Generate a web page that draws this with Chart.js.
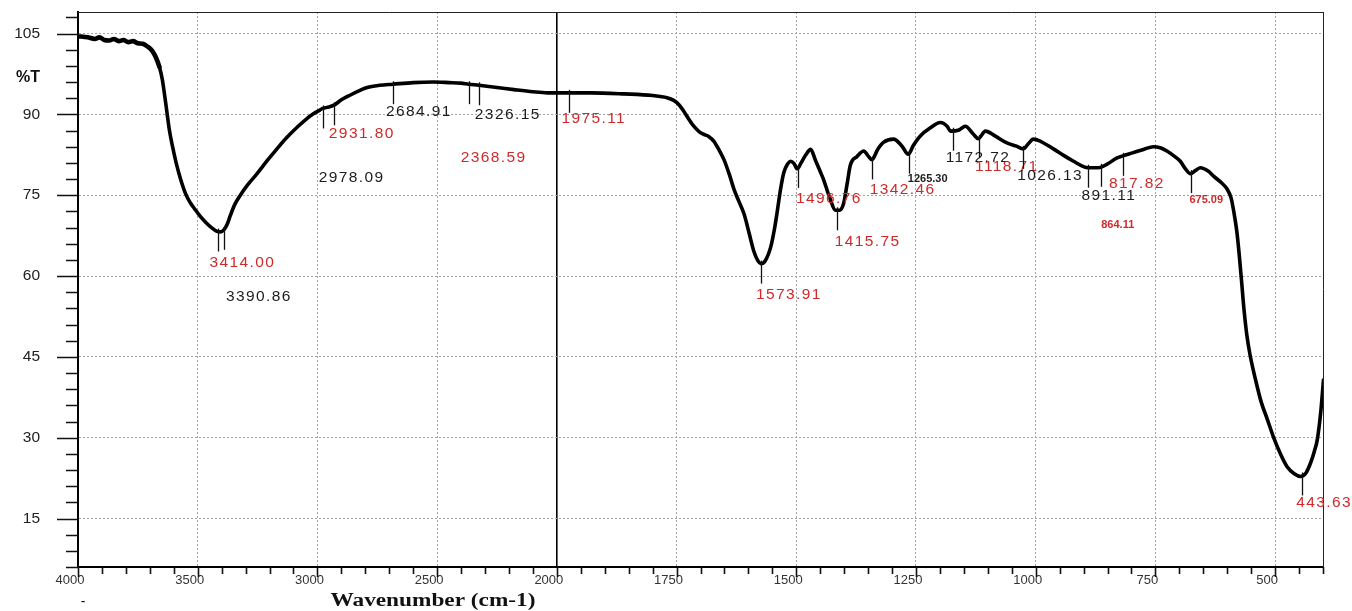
<!DOCTYPE html>
<html>
<head>
<meta charset="utf-8">
<script src="https://cdn.jsdelivr.net/npm/chart.js@4/dist/chart.umd.min.js"></script>
<style>
  html, body { margin: 0; padding: 0; background: #ffffff; }
  #wrap { width: 1352px; height: 611px; position: relative; }
  canvas { display: block; }
</style>
</head>
<body>
<div id="wrap"><canvas id="ftir" width="1352" height="611"></canvas></div>
<script>
// FTIR spectrum: transmittance (%T) against wavenumber (cm-1)

const wavenumbers = [
  4000, 3960, 3930, 3910, 3890, 3870, 3850, 3830, 3810, 3790, 3770, 3750, 3730, 3710, 3690, 3675,
  3660, 3648, 3638, 3628, 3618, 3605, 3590, 3573, 3550, 3531, 3510, 3490, 3465, 3440, 3420, 3405,
  3390, 3375, 3364, 3345, 3322, 3290, 3252, 3210, 3169, 3130, 3085, 3050, 3017, 2990, 2978, 2960,
  2931, 2900, 2862, 2820, 2792, 2740, 2685, 2600, 2515, 2450, 2402, 2368, 2326, 2250, 2179, 2100,
  2039, 2000, 1975, 1929, 1860, 1800, 1770, 1756, 1745, 1735, 1725, 1714, 1703, 1693, 1683, 1672,
  1660, 1651, 1640, 1630, 1620, 1609, 1598, 1589, 1580, 1574, 1565, 1553, 1545, 1540, 1533, 1526,
  1518, 1512, 1505, 1498, 1490, 1480, 1470, 1460, 1450, 1443, 1430, 1418, 1410, 1401, 1394, 1387,
  1373, 1359, 1350, 1342, 1330, 1318, 1297, 1280, 1266, 1255, 1241, 1220, 1199, 1185, 1178, 1160,
  1147, 1130, 1120, 1105, 1085, 1060, 1040, 1026, 1015, 1005, 990, 963, 940, 921, 900, 891,
  869, 850, 831, 818, 796, 775, 754, 740, 726, 710, 698, 688, 677, 666, 656, 640,
  628, 612, 600, 592, 586, 580, 575, 570, 565, 559, 552, 541, 529, 517, 503, 489,
  475, 460, 447, 436, 426, 418, 412, 405, 399
];

const transmittance = [
  104.5, 104.3, 104.0, 104.3, 103.8, 103.7, 104.0, 103.6, 103.8, 103.4, 103.6, 103.2, 103.1, 102.6, 101.8, 100.6,
  98.8, 96.5, 93.5, 90.2, 87.0, 84.0, 81.0, 78.2, 75.2, 73.6, 72.3, 71.1, 69.9, 68.9, 68.3, 68.2,
  68.6, 69.8, 71.2, 73.3, 75.0, 77.0, 79.0, 81.4, 83.6, 85.6, 87.6, 89.0, 90.1, 90.8, 91.1, 91.3,
  91.7, 92.7, 93.6, 94.5, 95.0, 95.4, 95.6, 95.9, 96.0, 95.9, 95.8, 95.6, 95.4, 95.0, 94.6, 94.2,
  94.0, 94.0, 94.0, 94.0, 93.8, 93.5, 93.1, 92.6, 91.8, 90.6, 89.2, 87.8, 86.8, 86.3, 85.9, 85.0,
  83.2, 81.6, 78.9, 76.1, 73.9, 71.5, 67.8, 64.7, 62.8, 62.3, 62.8, 65.5, 69.0, 71.8, 76.0, 79.2,
  80.8, 81.3, 80.9, 79.9, 81.0, 82.5, 83.5, 81.5, 79.4, 77.9, 74.5, 72.2, 72.2, 73.5, 77.0, 80.6,
  82.2, 83.2, 82.3, 81.6, 83.5, 84.8, 85.4, 84.2, 82.6, 84.3, 86.0, 87.5, 88.5, 87.8, 86.9, 87.1,
  87.8, 86.3, 85.5, 86.9, 86.0, 84.7, 84.1, 83.6, 84.6, 85.4, 85.0, 83.6, 82.3, 81.3, 80.3, 80.1,
  80.1, 80.8, 81.9, 82.3, 82.9, 83.5, 84.0, 83.8, 83.2, 82.2, 81.3, 80.0, 79.0, 79.6, 80.1, 79.5,
  78.5, 77.3, 76.1, 74.5, 71.8, 68.3, 64.0, 59.0, 53.8, 49.0, 45.2, 40.8, 36.6, 33.6, 30.0, 27.0,
  24.6, 23.3, 22.8, 23.4, 25.3, 27.5, 29.6, 34.5, 40.7
];

// Axis tick labels
const xTickLabels = [4000, 3500, 3000, 2500, 2000, 1750, 1500, 1250, 1000, 750, 500];
const yTickLabels = [15, 30, 45, 60, 75, 90, 105];

// Picked peaks (cm-1)
const peakWavenumbers = [
  3414.00, 3390.86, 2978.09, 2931.80, 2684.91, 2368.59, 2326.15, 1975.11, 1573.91, 1496.76, 1415.75,
  1342.46, 1265.30, 1172.72, 1118.71, 1026.13, 891.11, 864.11, 817.82, 675.09, 443.63
];

// Label styling per peak: colour and font weight class
const RED = '#cf2a2a', INK = '#1c1c1c';
const peakColors = [
  RED, INK, INK, RED, INK, RED, INK, RED, RED, RED, RED,
  RED, INK, INK, RED, INK, INK, RED, RED, RED, RED
];
const peakSmallBold = [
  false, false, false, false, false, false, false, false, false, false, false,
  false, true, false, false, false, false, true, false, true, false
];
// Label centre offset from the peak point, in pixels
const peakLabelShift = [
  [24, 31], [35, 67], [29, 69], [28, 28], [26, 28], [25, 74], [29, 29], [25, 26], [28, 31], [31, 31], [31, 31],
  [31, 30], [19, 25], [25, 27], [28, 29], [27, 27], [21, 28], [17, 58], [14, 28], [15, 27], [22, 27]
];

// Wavenumber axis with a change of scale at 2000 cm-1 (double density below it)
const HIGH = 4000, BREAK = 2000, LOW = 400, LOW_GAIN = 2;
const SPAN = (HIGH - BREAK) + (BREAK - LOW) * LOW_GAIN;
function toVirtual(v) { return v >= BREAK ? HIGH - v : (HIGH - BREAK) + (BREAK - v) * LOW_GAIN; }
function fromVirtual(u) { return u <= HIGH - BREAK ? HIGH - u : BREAK - (u - (HIGH - BREAK)) / LOW_GAIN; }

const BaseLinear = Chart.LinearScale || Chart.registry.getScale('linear');
class BrokenWavenumberScale extends BaseLinear {
  buildTicks() {
    const ticks = [];
    for (let v = HIGH; v >= BREAK; v -= 100) ticks.push({ value: v });
    for (let v = BREAK - 50; v >= LOW; v -= 50) ticks.push({ value: v });
    return ticks;
  }
  getPixelForValue(value) {
    if (value === null || value === undefined || isNaN(value)) return NaN;
    return this.getPixelForDecimal(toVirtual(value) / SPAN);
  }
  getValueForPixel(pixel) {
    return fromVirtual(this.getDecimalForPixel(pixel) * SPAN);
  }
}
BrokenWavenumberScale.id = 'brokenWavenumber';
BrokenWavenumberScale.defaults = BaseLinear.defaults;
Chart.register(BrokenWavenumberScale);

function curveAt(w) {
  for (let i = 0; i < wavenumbers.length - 1; i++) {
    const a = wavenumbers[i], b = wavenumbers[i + 1];
    if (w <= a && w >= b) {
      const t = (a - w) / (a - b);
      return transmittance[i] + t * (transmittance[i + 1] - transmittance[i]);
    }
  }
  return transmittance[transmittance.length - 1];
}

const GRID = '#a3a3a3';

function noScalePadding(s) {
  s.paddingTop = 0; s.paddingBottom = 0; s.paddingLeft = 0; s.paddingRight = 0;
}

const decorations = {
  id: 'decorations',
  afterDraw(chart) {
    const { ctx, chartArea: a } = chart;
    const xs = chart.scales.x, ys = chart.scales.y;
    ctx.save();

    // Frame: top and right edges
    ctx.strokeStyle = '#222';
    ctx.lineWidth = 1;
    ctx.beginPath();
    ctx.moveTo(a.left, a.top + 0.5); ctx.lineTo(a.right, a.top + 0.5);
    ctx.moveTo(a.right + 0.5, a.top); ctx.lineTo(a.right + 0.5, a.bottom);
    ctx.stroke();

    // Axis tick marks
    ctx.strokeStyle = '#111';
    ctx.lineWidth = 1.6;
    ctx.beginPath();
    xs.ticks.forEach(t => {
      const px = Math.round(xs.getPixelForValue(t.value)) + 0.5;
      const len = xTickLabels.includes(t.value) ? 10 : 7;
      ctx.moveTo(px, a.bottom); ctx.lineTo(px, a.bottom + len);
    });
    ys.ticks.forEach(t => {
      const py = Math.round(ys.getPixelForValue(t.value)) + 0.5;
      const len = yTickLabels.includes(t.value) ? 21 : 12;
      ctx.moveTo(a.left, py); ctx.lineTo(a.left - len, py);
    });
    ctx.stroke();

    // Axis captions
    ctx.fillStyle = '#111';
    ctx.textAlign = 'center';
    ctx.textBaseline = 'middle';
    ctx.font = 'bold 16px "Liberation Sans", Arial, sans-serif';
    ctx.fillText('%T', 28, 78);

    ctx.font = 'bold 18px "Liberation Serif", "Times New Roman", serif';
    const title = 'Wavenumber (cm-1)';
    const w = ctx.measureText(title).width;
    ctx.save();
    ctx.translate(433, 601);
    ctx.scale(205 / w, 1);
    ctx.fillText(title, 0, 0);
    ctx.restore();

    ctx.font = '14px "Liberation Sans", Arial, sans-serif';
    ctx.fillText('-', 83, 602);

    // Peak markers and their wavenumber labels
    peakWavenumbers.forEach((w, i) => {
      const px = xs.getPixelForValue(w);
      const py = ys.getPixelForValue(curveAt(w));
      ctx.strokeStyle = '#111';
      ctx.lineWidth = 1.3;
      ctx.beginPath();
      ctx.moveTo(Math.round(px) + 0.5, py - 3);
      ctx.lineTo(Math.round(px) + 0.5, py + 20);
      ctx.stroke();

      const [dx, dy] = peakLabelShift[i];
      ctx.fillStyle = peakColors[i];
      if (peakSmallBold[i]) {
        ctx.font = 'bold 11px "Liberation Sans", Arial, sans-serif';
        ctx.letterSpacing = '0px';
      } else {
        ctx.font = '15.5px "Liberation Sans", Arial, sans-serif';
        ctx.letterSpacing = '1.4px';
      }
      ctx.textAlign = 'center';
      ctx.textBaseline = 'middle';
      ctx.fillText(w.toFixed(2), px + dx, py + dy);
    });
    ctx.letterSpacing = '0px';
    ctx.restore();
  }
};

new Chart(document.getElementById('ftir'), {
  type: 'line',
  data: {
    datasets: [{
      data: wavenumbers.map((w, i) => ({ x: w, y: transmittance[i] })),
      borderColor: '#000',
      borderWidth: 3.6,
      borderCapStyle: 'round',
      borderJoinStyle: 'round',
      pointRadius: 0,
      fill: false,
      cubicInterpolationMode: 'monotone',
      // the noisy high-wavenumber plateau is traced with a heavier stroke
      segment: { borderWidth: c => (c.p0.parsed.x > 3665 ? 4.6 : 3.6) }
    }]
  },
  options: {
    responsive: false,
    animation: false,
    devicePixelRatio: 1,
    layout: { padding: { top: 12, right: 29, left: 0, bottom: 0 } },
    plugins: { legend: { display: false }, tooltip: { enabled: false } },
    scales: {
      x: {
        type: 'brokenWavenumber',
        min: LOW,
        max: HIGH,
        afterFit(s) { s.height = 44; noScalePadding(s); },
        grid: {
          drawTicks: false,
          color: c => {
            const v = c.tick ? c.tick.value : null;
            if (v === BREAK) return '#000';
            if (v === HIGH || v === null) return 'rgba(0,0,0,0)';
            return xTickLabels.includes(v) ? GRID : 'rgba(0,0,0,0)';
          },
          lineWidth: c => (c.tick && c.tick.value === BREAK ? 1.6 : 1)
        },
        border: {
          display: true,
          color: '#000',
          width: 2,
          dash: c => (c.type === 'tick' && c.tick && c.tick.value !== BREAK ? [2, 2] : [])
        },
        ticks: {
          autoSkip: false,
          maxRotation: 0,
          minRotation: 0,
          padding: 6,
          labelOffset: -8,
          color: '#333',
          font: { family: '"Liberation Sans", Arial, sans-serif', size: 13 },
          callback: v => (xTickLabels.includes(v) ? String(v) : '')
        }
      },
      y: {
        min: 6,
        max: 109,
        afterFit(s) { s.width = 78; noScalePadding(s); },
        grid: {
          drawTicks: false,
          color: c => (c.tick && yTickLabels.includes(c.tick.value) ? GRID : 'rgba(0,0,0,0)')
        },
        border: {
          display: true,
          color: '#000',
          width: 2,
          dash: c => (c.type === 'tick' ? [2, 2] : [])
        },
        ticks: {
          stepSize: 3,
          includeBounds: false,
          autoSkip: false,
          padding: 38,
          color: '#222',
          font: { family: '"Liberation Sans", Arial, sans-serif', size: 15.5 },
          callback: v => (yTickLabels.includes(v) ? String(v) : '')
        }
      }
    }
  },
  plugins: [decorations]
});
</script>
</body>
</html>
